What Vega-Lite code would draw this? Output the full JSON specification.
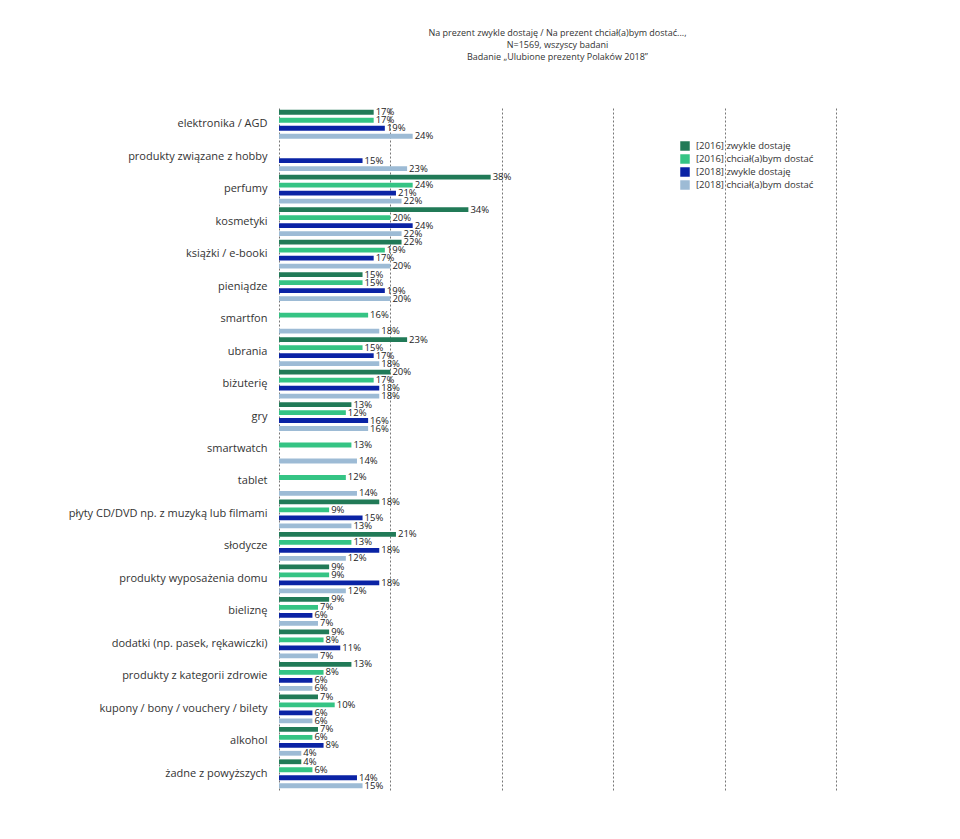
{
  "$schema": "https://vega.github.io/schema/vega-lite/v6.json",
  "width": 557,
  "height": 682,
  "autosize": {"type": "none"},
  "padding": {"left": 279, "top": 108, "right": 124, "bottom": 49},
  "background": "white",
  "config": {"font": "Open Sans", "view": {"stroke": null}},
  "title": {
    "text": ["Na prezent zwykle dostaję / Na prezent chciał(a)bym dostać...,", "N=1569, wszyscy badani", "Badanie „Ulubione prezenty Polaków 2018”"],
    "fontSize": 9,
    "fontWeight": "normal",
    "color": "#333",
    "lineHeight": 12,
    "anchor": "middle",
    "offset": 45
  },
  "data": {"values": [
    {"k": "elektronika / AGD", "s": "[2016] zwykle dostaję", "v": 0.17},
    {"k": "elektronika / AGD", "s": "[2016] chciał(a)bym dostać", "v": 0.17},
    {"k": "elektronika / AGD", "s": "[2018] zwykle dostaję", "v": 0.19},
    {"k": "elektronika / AGD", "s": "[2018] chciał(a)bym dostać", "v": 0.24},
    {"k": "produkty związane z hobby", "s": "[2018] zwykle dostaję", "v": 0.15},
    {"k": "produkty związane z hobby", "s": "[2018] chciał(a)bym dostać", "v": 0.23},
    {"k": "perfumy", "s": "[2016] zwykle dostaję", "v": 0.38},
    {"k": "perfumy", "s": "[2016] chciał(a)bym dostać", "v": 0.24},
    {"k": "perfumy", "s": "[2018] zwykle dostaję", "v": 0.21},
    {"k": "perfumy", "s": "[2018] chciał(a)bym dostać", "v": 0.22},
    {"k": "kosmetyki", "s": "[2016] zwykle dostaję", "v": 0.34},
    {"k": "kosmetyki", "s": "[2016] chciał(a)bym dostać", "v": 0.20},
    {"k": "kosmetyki", "s": "[2018] zwykle dostaję", "v": 0.24},
    {"k": "kosmetyki", "s": "[2018] chciał(a)bym dostać", "v": 0.22},
    {"k": "książki / e-booki", "s": "[2016] zwykle dostaję", "v": 0.22},
    {"k": "książki / e-booki", "s": "[2016] chciał(a)bym dostać", "v": 0.19},
    {"k": "książki / e-booki", "s": "[2018] zwykle dostaję", "v": 0.17},
    {"k": "książki / e-booki", "s": "[2018] chciał(a)bym dostać", "v": 0.20},
    {"k": "pieniądze", "s": "[2016] zwykle dostaję", "v": 0.15},
    {"k": "pieniądze", "s": "[2016] chciał(a)bym dostać", "v": 0.15},
    {"k": "pieniądze", "s": "[2018] zwykle dostaję", "v": 0.19},
    {"k": "pieniądze", "s": "[2018] chciał(a)bym dostać", "v": 0.20},
    {"k": "smartfon", "s": "[2016] chciał(a)bym dostać", "v": 0.16},
    {"k": "smartfon", "s": "[2018] chciał(a)bym dostać", "v": 0.18},
    {"k": "ubrania", "s": "[2016] zwykle dostaję", "v": 0.23},
    {"k": "ubrania", "s": "[2016] chciał(a)bym dostać", "v": 0.15},
    {"k": "ubrania", "s": "[2018] zwykle dostaję", "v": 0.17},
    {"k": "ubrania", "s": "[2018] chciał(a)bym dostać", "v": 0.18},
    {"k": "biżuterię", "s": "[2016] zwykle dostaję", "v": 0.20},
    {"k": "biżuterię", "s": "[2016] chciał(a)bym dostać", "v": 0.17},
    {"k": "biżuterię", "s": "[2018] zwykle dostaję", "v": 0.18},
    {"k": "biżuterię", "s": "[2018] chciał(a)bym dostać", "v": 0.18},
    {"k": "gry", "s": "[2016] zwykle dostaję", "v": 0.13},
    {"k": "gry", "s": "[2016] chciał(a)bym dostać", "v": 0.12},
    {"k": "gry", "s": "[2018] zwykle dostaję", "v": 0.16},
    {"k": "gry", "s": "[2018] chciał(a)bym dostać", "v": 0.16},
    {"k": "smartwatch", "s": "[2016] chciał(a)bym dostać", "v": 0.13},
    {"k": "smartwatch", "s": "[2018] chciał(a)bym dostać", "v": 0.14},
    {"k": "tablet", "s": "[2016] chciał(a)bym dostać", "v": 0.12},
    {"k": "tablet", "s": "[2018] chciał(a)bym dostać", "v": 0.14},
    {"k": "płyty CD/DVD np. z muzyką lub filmami", "s": "[2016] zwykle dostaję", "v": 0.18},
    {"k": "płyty CD/DVD np. z muzyką lub filmami", "s": "[2016] chciał(a)bym dostać", "v": 0.09},
    {"k": "płyty CD/DVD np. z muzyką lub filmami", "s": "[2018] zwykle dostaję", "v": 0.15},
    {"k": "płyty CD/DVD np. z muzyką lub filmami", "s": "[2018] chciał(a)bym dostać", "v": 0.13},
    {"k": "słodycze", "s": "[2016] zwykle dostaję", "v": 0.21},
    {"k": "słodycze", "s": "[2016] chciał(a)bym dostać", "v": 0.13},
    {"k": "słodycze", "s": "[2018] zwykle dostaję", "v": 0.18},
    {"k": "słodycze", "s": "[2018] chciał(a)bym dostać", "v": 0.12},
    {"k": "produkty wyposażenia domu", "s": "[2016] zwykle dostaję", "v": 0.09},
    {"k": "produkty wyposażenia domu", "s": "[2016] chciał(a)bym dostać", "v": 0.09},
    {"k": "produkty wyposażenia domu", "s": "[2018] zwykle dostaję", "v": 0.18},
    {"k": "produkty wyposażenia domu", "s": "[2018] chciał(a)bym dostać", "v": 0.12},
    {"k": "bieliznę", "s": "[2016] zwykle dostaję", "v": 0.09},
    {"k": "bieliznę", "s": "[2016] chciał(a)bym dostać", "v": 0.07},
    {"k": "bieliznę", "s": "[2018] zwykle dostaję", "v": 0.06},
    {"k": "bieliznę", "s": "[2018] chciał(a)bym dostać", "v": 0.07},
    {"k": "dodatki (np. pasek, rękawiczki)", "s": "[2016] zwykle dostaję", "v": 0.09},
    {"k": "dodatki (np. pasek, rękawiczki)", "s": "[2016] chciał(a)bym dostać", "v": 0.08},
    {"k": "dodatki (np. pasek, rękawiczki)", "s": "[2018] zwykle dostaję", "v": 0.11},
    {"k": "dodatki (np. pasek, rękawiczki)", "s": "[2018] chciał(a)bym dostać", "v": 0.07},
    {"k": "produkty z kategorii zdrowie", "s": "[2016] zwykle dostaję", "v": 0.13},
    {"k": "produkty z kategorii zdrowie", "s": "[2016] chciał(a)bym dostać", "v": 0.08},
    {"k": "produkty z kategorii zdrowie", "s": "[2018] zwykle dostaję", "v": 0.06},
    {"k": "produkty z kategorii zdrowie", "s": "[2018] chciał(a)bym dostać", "v": 0.06},
    {"k": "kupony / bony / vouchery / bilety", "s": "[2016] zwykle dostaję", "v": 0.07},
    {"k": "kupony / bony / vouchery / bilety", "s": "[2016] chciał(a)bym dostać", "v": 0.10},
    {"k": "kupony / bony / vouchery / bilety", "s": "[2018] zwykle dostaję", "v": 0.06},
    {"k": "kupony / bony / vouchery / bilety", "s": "[2018] chciał(a)bym dostać", "v": 0.06},
    {"k": "alkohol", "s": "[2016] zwykle dostaję", "v": 0.07},
    {"k": "alkohol", "s": "[2016] chciał(a)bym dostać", "v": 0.06},
    {"k": "alkohol", "s": "[2018] zwykle dostaję", "v": 0.08},
    {"k": "alkohol", "s": "[2018] chciał(a)bym dostać", "v": 0.04},
    {"k": "żadne z powyższych", "s": "[2016] zwykle dostaję", "v": 0.04},
    {"k": "żadne z powyższych", "s": "[2016] chciał(a)bym dostać", "v": 0.06},
    {"k": "żadne z powyższych", "s": "[2018] zwykle dostaję", "v": 0.14},
    {"k": "żadne z powyższych", "s": "[2018] chciał(a)bym dostać", "v": 0.15}
  ]},
  "encoding": {
    "y": {
      "field": "k", "type": "nominal", "sort": null,
      "scale": {"paddingInner": 0.04, "paddingOuter": 0.02},
      "axis": {"title": null, "domain": false, "ticks": false, "labelFontSize": 11, "labelColor": "#333", "labelPadding": 12, "labelLimit": 300}
    },
    "yOffset": {
      "field": "s", "type": "nominal",
      "scale": {"domain": ["[2016] zwykle dostaję", "[2016] chciał(a)bym dostać", "[2018] zwykle dostaję", "[2018] chciał(a)bym dostać"], "paddingInner": 0.4, "paddingOuter": 0.15}
    },
    "x": {
      "field": "v", "type": "quantitative",
      "scale": {"domain": [0, 1], "nice": false},
      "axis": {"title": null, "values": [0, 0.2, 0.4, 0.6, 0.8, 1], "labels": false, "ticks": false, "domain": false, "grid": true, "gridDash": [2, 2], "gridColor": "#777", "gridWidth": 1}
    }
  },
  "layer": [
    {
      "mark": {"type": "bar"},
      "encoding": {
        "color": {
          "field": "s", "type": "nominal",
          "scale": {"domain": ["[2016] zwykle dostaję", "[2016] chciał(a)bym dostać", "[2018] zwykle dostaję", "[2018] chciał(a)bym dostać"], "range": ["#217a57", "#35c484", "#0a23a5", "#9dbbd5"]},
          "legend": {"title": null, "orient": "none", "legendX": 401, "legendY": 33, "symbolType": "square", "symbolSize": 90, "symbolStrokeWidth": 0, "labelFontSize": 9.5, "labelColor": "#333", "rowPadding": 3, "labelOffset": 6}
        }
      }
    },
    {
      "mark": {"type": "text", "align": "left", "baseline": "middle", "dx": 2, "fontSize": 9.5, "color": "#222"},
      "encoding": {"text": {"field": "v", "type": "quantitative", "format": ".0%"}}
    }
  ]
}
